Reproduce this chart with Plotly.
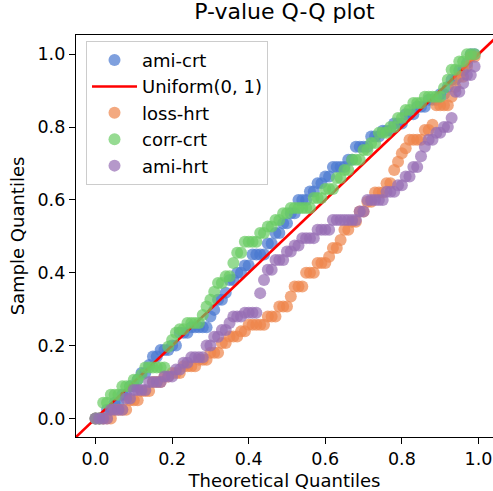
import plotly.graph_objects as go

theoretical_quantiles = [
    0.00, 0.01, 0.02, 0.03, 0.04, 0.05, 0.06, 0.07, 0.08, 0.09,
    0.10, 0.11, 0.12, 0.13, 0.14, 0.15, 0.16, 0.17, 0.18, 0.19,
    0.20, 0.21, 0.22, 0.23, 0.24, 0.25, 0.26, 0.27, 0.28, 0.29,
    0.30, 0.31, 0.32, 0.33, 0.34, 0.35, 0.36, 0.37, 0.38, 0.39,
    0.40, 0.41, 0.42, 0.43, 0.44, 0.45, 0.46, 0.47, 0.48, 0.49,
    0.50, 0.51, 0.52, 0.53, 0.54, 0.55, 0.56, 0.57, 0.58, 0.59,
    0.60, 0.61, 0.62, 0.63, 0.64, 0.65, 0.66, 0.67, 0.68, 0.69,
    0.70, 0.71, 0.72, 0.73, 0.74, 0.75, 0.76, 0.77, 0.78, 0.79,
    0.80, 0.81, 0.82, 0.83, 0.84, 0.85, 0.86, 0.87, 0.88, 0.89,
    0.90, 0.91, 0.92, 0.93, 0.94, 0.95, 0.96, 0.97, 0.98, 0.99,
]

ami_crt = [
    0.0, 0.0, 0.0, 0.024, 0.024, 0.043, 0.043, 0.065, 0.065, 0.088,
    0.088, 0.106, 0.125, 0.125, 0.147, 0.17, 0.17, 0.188, 0.188, 0.188,
    0.2, 0.2, 0.235, 0.235, 0.235, 0.25, 0.25, 0.25, 0.25, 0.25,
    0.28, 0.298, 0.326, 0.326, 0.345, 0.38, 0.38, 0.4, 0.4, 0.42,
    0.42, 0.45, 0.45, 0.45, 0.45, 0.48, 0.48, 0.509, 0.509, 0.536,
    0.536, 0.563, 0.563, 0.6, 0.6, 0.6, 0.623, 0.623, 0.646, 0.646,
    0.664, 0.664, 0.69, 0.69, 0.69, 0.69, 0.71, 0.71, 0.746, 0.746,
    0.746, 0.746, 0.774, 0.774, 0.774, 0.79, 0.79, 0.79, 0.81, 0.81,
    0.81, 0.835, 0.835, 0.835, 0.856, 0.856, 0.856, 0.875, 0.875, 0.875,
    0.89, 0.89, 0.91, 0.93, 0.93, 0.955, 0.955, 0.975, 1.0, 1.0,
]

loss_hrt = [
    0.0, 0.0, 0.0, 0.0, 0.0, 0.024, 0.024, 0.024, 0.024, 0.05,
    0.05, 0.05, 0.075, 0.075, 0.075, 0.1, 0.1, 0.1, 0.115, 0.115,
    0.125, 0.125, 0.125, 0.143, 0.143, 0.143, 0.143, 0.161, 0.161, 0.161,
    0.18, 0.18, 0.18, 0.207, 0.207, 0.225, 0.225, 0.225, 0.239, 0.239,
    0.257, 0.257, 0.257, 0.257, 0.257, 0.28, 0.28, 0.28, 0.307, 0.307,
    0.307, 0.335, 0.362, 0.362, 0.362, 0.4, 0.4, 0.4, 0.427, 0.427,
    0.427, 0.444, 0.468, 0.468, 0.49, 0.518, 0.518, 0.54, 0.54, 0.568,
    0.568, 0.595, 0.595, 0.62, 0.62, 0.62, 0.646, 0.646, 0.682, 0.705,
    0.728, 0.742, 0.765, 0.765, 0.765, 0.765, 0.792, 0.792, 0.806, 0.86,
    0.86, 0.86, 0.86, 0.883, 0.91, 0.938, 0.938, 0.966, 0.993, 0.993,
]

corr_crt = [
    0.0, 0.0, 0.043, 0.043, 0.065, 0.065, 0.065, 0.088, 0.088, 0.088,
    0.106, 0.106, 0.12, 0.14, 0.14, 0.14, 0.14, 0.14, 0.14, 0.197,
    0.215, 0.235, 0.245, 0.245, 0.262, 0.262, 0.262, 0.262, 0.284, 0.307,
    0.326, 0.348, 0.372, 0.372, 0.39, 0.39, 0.427, 0.455, 0.455, 0.485,
    0.485, 0.485, 0.485, 0.509, 0.509, 0.527, 0.527, 0.545, 0.545, 0.563,
    0.563, 0.578, 0.578, 0.578, 0.578, 0.578, 0.578, 0.605, 0.605, 0.605,
    0.63, 0.63, 0.63, 0.66, 0.66, 0.682, 0.682, 0.71, 0.71, 0.71,
    0.737, 0.737, 0.756, 0.756, 0.784, 0.784, 0.784, 0.8, 0.8, 0.825,
    0.825, 0.847, 0.847, 0.866, 0.866, 0.866, 0.883, 0.883, 0.883, 0.883,
    0.883, 0.907, 0.93, 0.957, 0.957, 0.98, 0.98, 1.0, 1.0, 1.0,
]

ami_hrt = [
    0.0, 0.0, 0.0, 0.0, 0.024, 0.024, 0.024, 0.024, 0.055, 0.055,
    0.078, 0.078, 0.078, 0.078, 0.1, 0.1, 0.1, 0.1, 0.115, 0.115,
    0.115, 0.134, 0.134, 0.153, 0.153, 0.168, 0.168, 0.168, 0.168, 0.2,
    0.2, 0.224, 0.224, 0.243, 0.243, 0.262, 0.28, 0.28, 0.28, 0.29,
    0.29, 0.29, 0.29, 0.344, 0.38, 0.408, 0.408, 0.435, 0.435, 0.435,
    0.458, 0.458, 0.475, 0.475, 0.495, 0.495, 0.495, 0.495, 0.518, 0.518,
    0.518, 0.518, 0.545, 0.545, 0.545, 0.545, 0.545, 0.545, 0.545, 0.568,
    0.568, 0.6, 0.6, 0.6, 0.6, 0.6, 0.622, 0.622, 0.622, 0.64,
    0.64, 0.664, 0.664, 0.69, 0.69, 0.72, 0.746, 0.765, 0.765, 0.784,
    0.784, 0.8, 0.8, 0.825, 0.897, 0.897, 0.92, 0.943, 0.943, 0.966,
]

uniform_ref = [-0.1, 1.1]

series_colors = {"ami-crt": "#4878d0", "loss-hrt": "#ee854a",
                 "corr-crt": "#6acc64", "ami-hrt": "#956cb4"}
series_values = {"ami-crt": ami_crt, "loss-hrt": loss_hrt,
                 "corr-crt": corr_crt, "ami-hrt": ami_hrt}

tick_vals = [0.0, 0.2, 0.4, 0.6, 0.8, 1.0]
tick_text = ["0.0", "0.2", "0.4", "0.6", "0.8", "1.0"]

FONT = "DejaVu Sans"
fig = go.Figure()


def add_series(name):
    fig.add_trace(go.Scatter(
        x=theoretical_quantiles, y=series_values[name], mode="markers",
        name=name, legendgroup=name,
        marker=dict(size=12, color=series_colors[name], opacity=0.7,
                    line=dict(width=0)),
    ))


add_series("ami-crt")
fig.add_trace(go.Scatter(
    x=uniform_ref, y=uniform_ref, mode="lines", name="Uniform(0, 1)",
    legendgroup="uniform", line=dict(color="#ff0000", width=2.6),
))
for nm in ["loss-hrt", "corr-crt", "ami-hrt"]:
    add_series(nm)

axis_common = dict(
    showline=True, linecolor="black", linewidth=1.4, mirror=True,
    ticks="outside", ticklen=6, tickwidth=1.4, tickcolor="black",
    showgrid=False, zeroline=False, automargin=False,
    tickvals=tick_vals, ticktext=tick_text,
    tickfont=dict(family=FONT, size=17.5, color="black"),
)

fig.update_layout(
    width=493, height=491,
    margin=dict(l=76, r=0, t=35, b=54, autoexpand=False),
    paper_bgcolor="white", plot_bgcolor="white",
    font=dict(family=FONT, color="black"),
    title=dict(text="P-value Q-Q plot", x=0.5, xref="paper",
               y=1 - 4 / 491, yref="container", yanchor="top",
               font=dict(family=FONT, size=22, color="black")),
    xaxis=dict(range=[-0.051, 1.038],
               title=dict(text="Theoretical Quantiles", standoff=6,
                          font=dict(family=FONT, size=18, color="black")),
               **axis_common),
    yaxis=dict(range=[-0.051, 1.0527],
               title=dict(text="Sample Quantiles", standoff=8,
                          font=dict(family=FONT, size=18, color="black")),
               **axis_common),
    legend=dict(x=0.024, y=0.9855, xanchor="left", yanchor="top",
                bgcolor="rgba(255,255,255,0.8)", bordercolor="#cccccc",
                borderwidth=1, traceorder="grouped", tracegroupgap=0,
                itemwidth=45,
                font=dict(family=FONT, size=18, color="black")),
    showlegend=True,
)

fig.write_html("out.html",
               config={"displayModeBar": False},
               post_script="document.body.style.margin='0px';"
                           "document.body.style.padding='0px';")
